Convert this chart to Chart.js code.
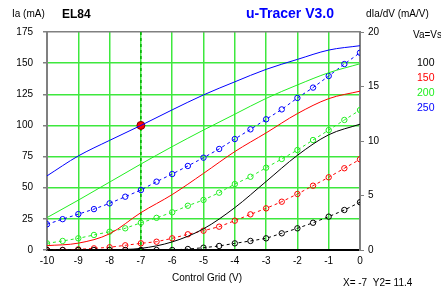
<!DOCTYPE html>
<html>
<head>
<meta charset="UTF-8">
<title>EL84 u-Tracer</title>
<script src="https://cdn.jsdelivr.net/npm/chart.js@4/dist/chart.umd.min.js"></script>
<style>
  body { margin: 0; background: #fff; }
  #wrap { width: 441px; height: 291px; }
</style>
</head>
<body>
<div id="wrap"><canvas id="tube" width="441" height="291"></canvas></div>
<script>
// grid voltage (V) for the anode current curves
const gridVolts = [-10, -9, -8, -7, -6, -5, -4, -3, -2, -1, 0];
// anode current Ia (mA) per anode voltage
const ia100 = [0, 0, 0.2, 1.3, 6.5, 17, 34, 55, 76, 92.5, 101];
const ia150 = [3.5, 5.5, 13, 30, 44.5, 61.5, 79, 94, 109.5, 121.5, 127.5];
const ia200 = [26, 40, 54.5, 69, 83, 96.3, 109, 121.7, 132.5, 142.3, 149.5];
const ia250 = [59.5, 75.5, 88, 100, 112.5, 124.5, 135, 145, 153, 160.5, 164];

// grid voltage for the slope samples (markers every 0.5 V)
const slopeVolts = [-10, -9.5, -9, -8.5, -8, -7.5, -7, -6.5, -6, -5.5, -5,
                    -4.5, -4, -3.5, -3, -2.5, -2, -1.5, -1, -0.5, 0];
// dIa/dV (mA/V)
const gm100 = [0, 0, 0, 0, 0, 0, 0, 0, 0, 0.09, 0.21, 0.37, 0.61, 0.83, 1.07, 1.53, 1.99, 2.5, 3.06, 3.67, 4.38];
const gm150 = [0, 0, 0.06, 0.15, 0.25, 0.43, 0.61, 0.76, 1.07, 1.44, 1.77, 2.14, 2.69, 3.27, 3.82, 4.43, 5.14, 5.9, 6.67, 7.5, 8.32];
const gm200 = [0.61, 0.83, 1.07, 1.38, 1.68, 1.99, 2.5, 2.95, 3.46, 4.06, 4.59, 5.26, 6.05, 6.72, 7.55, 8.35, 9.17, 10.09, 11.0, 11.93, 12.84];
const gm250 = [2.36, 2.83, 3.29, 3.75, 4.28, 4.89, 5.5, 6.27, 6.97, 7.71, 8.47, 9.27, 10.18, 11.07, 11.99, 12.9, 13.95, 14.9, 15.96, 17.06, 18.1];

const anodeVolts = ['100', '150', '200', '250'];
const seriesColors = ['#000000', '#ff0000', '#22ee22', '#0000ff'];

// cursor readout
const cursorX = -7;
const cursorY = 100;
const cursorY2 = 11.4;

const font = '"Liberation Sans", Arial, sans-serif';

function pts(xs, ys) {
    return xs.map((x, i) => ({ x: x, y: ys[i] }));
}

const iaSets = [ia100, ia150, ia200, ia250];
const gmSets = [gm100, gm150, gm200, gm250];
const datasets = [];

iaSets.forEach((ys, i) => {
    datasets.push({
        data: pts(gridVolts, ys),
        yAxisID: 'y',
        borderColor: seriesColors[i],
        borderWidth: 1,
        pointRadius: 0,
        cubicInterpolationMode: 'monotone'
    });
});
gmSets.forEach((ys, i) => {
    datasets.push({
        data: pts(slopeVolts, ys),
        yAxisID: 'y2',
        borderColor: seriesColors[i],
        borderWidth: 1,
        borderDash: [3, 3],
        pointRadius: 2.7,
        pointBorderWidth: 1,
        pointBorderColor: seriesColors[i],
        pointBackgroundColor: 'rgba(255,255,255,0)'
    });
});
// cursor dot
datasets.push({
    data: [{ x: cursorX, y: cursorY }],
    yAxisID: 'y',
    showLine: false,
    pointRadius: 4,
    pointBackgroundColor: '#ff0000',
    pointBorderColor: '#800000',
    pointBorderWidth: 1
});

const gridGreen = '#3ee83e';

// texts and cursor line
const decorations = {
    id: 'decorations',
    beforeDatasetsDraw(chart) {
        const ctx = chart.ctx;
        const xs = chart.scales.x;
        const area = chart.chartArea;
        const px = xs.getPixelForValue(cursorX);
        ctx.save();
        ctx.strokeStyle = '#00b000';
        ctx.lineWidth = 1.5;
        ctx.setLineDash([3, 3]);
        ctx.beginPath();
        ctx.moveTo(px, area.top);
        ctx.lineTo(px, area.bottom);
        ctx.stroke();
        ctx.restore();
    },
    afterDraw(chart) {
        const ctx = chart.ctx;
        ctx.save();
        ctx.textBaseline = 'middle';
        ctx.textAlign = 'left';
        ctx.fillStyle = '#000';
        ctx.font = '10px ' + font;
        ctx.fillText('Ia (mA)', 12, 14);
        ctx.fillText('dIa/dV (mA/V)', 366, 14);
        ctx.fillText('Control Grid (V)', 172, 278);
        ctx.fillText('X= ' + cursorX + '  Y2= ' + cursorY2, 343, 283);
        ctx.fillText('Va=Vs', 413, 35);
        ctx.font = 'bold 12px ' + font;
        ctx.fillText('EL84', 62, 15);
        ctx.fillStyle = '#0000ff';
        ctx.font = 'bold 14px ' + font;
        ctx.fillText('u-Tracer V3.0', 246, 14);
        ctx.font = '10.5px ' + font;
        anodeVolts.forEach((v, i) => {
            ctx.fillStyle = seriesColors[i];
            ctx.fillText(v, 417, 63 + i * 15);
        });
        ctx.restore();
    }
};

new Chart(document.getElementById('tube'), {
    type: 'scatter',
    data: { datasets: datasets },
    plugins: [decorations],
    options: {
        responsive: false,
        animation: false,
        events: [],
        showLine: true,
        layout: { padding: { top: 32, left: 0, right: 0, bottom: 0 } },
        plugins: { legend: { display: false }, tooltip: { enabled: false } },
        scales: {
            x: {
                type: 'linear',
                min: -10,
                max: 0,
                ticks: { stepSize: 1, color: '#000', padding: 5, font: { family: font, size: 10 } },
                grid: {
                    drawTicks: false,
                    lineWidth: 1.5,
                    color: c => (c.tick && (c.tick.value === -10 || c.tick.value === 0)) ? 'rgba(0,0,0,0)' : gridGreen
                },
                border: { color: '#000', width: 2 },
                afterFit(s) { s.height = 41; }
            },
            y: {
                position: 'left',
                min: 0,
                max: 175,
                ticks: { stepSize: 25, color: '#000', padding: 10, font: { family: font, size: 10 } },
                grid: {
                    tickLength: 4,
                    tickColor: '#808080',
                    lineWidth: 1.5,
                    color: c => {
                        if (!c.tick) return gridGreen;
                        if (c.tick.value === 0) return '#000';
                        if (c.tick.value === 175) return '#808080';
                        return gridGreen;
                    }
                },
                border: { color: '#808080', width: 2 },
                afterFit(s) { s.width = 47; }
            },
            y2: {
                position: 'right',
                min: 0,
                max: 20,
                ticks: { stepSize: 5, color: '#000', padding: 4, font: { family: font, size: 10 } },
                grid: { drawOnChartArea: false, tickLength: 4, tickColor: '#808080' },
                border: { color: '#808080', width: 2 },
                afterFit(s) { s.width = 81; }
            }
        }
    }
});
</script>
</body>
</html>
